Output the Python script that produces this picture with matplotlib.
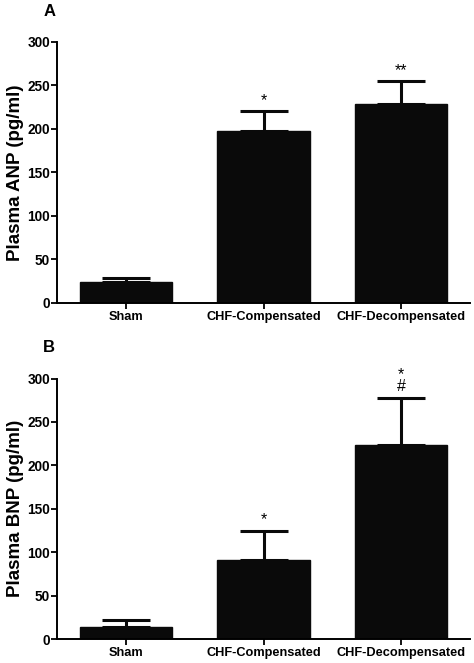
import matplotlib
matplotlib.use("Agg")
import matplotlib.pyplot as plt

plt.rcParams["font.family"] = ["Liberation Sans", "DejaVu Sans"]
plt.rcParams["font.weight"] = "bold"

groups = ["Sham", "CHF-Compensated", "CHF-Decompensated"]

anp_mean = [24.6, 198.0, 229.0]
anp_err = [4.0, 22.0, 25.5]
anp_marks = ["", "*", "**"]

bnp_mean = [14.5, 91.0, 223.0]
bnp_err = [7.0, 33.5, 55.0]
bnp_marks = ["", "*", "*\n#"]


def draw_panel(ax, means, errs, marks, ylabel):
    x = list(range(len(groups)))
    ax.bar(x, means, width=0.67, color="#0a0a0a", edgecolor="#0a0a0a", zorder=2)
    ax.errorbar(x, means, yerr=[[0] * len(errs), errs], fmt="none",
                ecolor="#0a0a0a", elinewidth=2.2, capsize=17, capthick=2.2, zorder=3)
    for xi, m, e, s in zip(x, means, errs, marks):
        if s:
            ax.text(xi, m + e + 4, s, ha="center", va="bottom", fontsize=11.5,
                    fontweight="normal", linespacing=0.75)
    ax.set_xlim(-0.5, 2.5)
    ax.set_ylim(0, 300)
    ax.set_yticks(range(0, 301, 50))
    ax.set_xticks(x)
    ax.set_xticklabels(groups, fontsize=9.2, fontweight="bold")
    ax.tick_params(axis="y", labelsize=9.8, width=1.3, length=4, pad=1)
    ax.tick_params(axis="x", width=1.3, length=4, pad=2)
    for lbl in ax.get_yticklabels():
        lbl.set_fontweight("bold")
    for side in ["top", "right"]:
        ax.spines[side].set_visible(False)
    for side in ["left", "bottom"]:
        ax.spines[side].set_linewidth(1.4)
    ax.set_ylabel(ylabel, fontsize=13.5, fontweight="bold", labelpad=2)


fig = plt.figure(figsize=(4.74, 6.63), dpi=100)
ax1 = fig.add_axes([0.120, 0.543, 0.872, 0.394])
ax2 = fig.add_axes([0.120, 0.036, 0.872, 0.393])

draw_panel(ax1, anp_mean, anp_err, anp_marks, "Plasma ANP (pg/ml)")
draw_panel(ax2, bnp_mean, bnp_err, bnp_marks, "Plasma BNP (pg/ml)")

fig.text(50 / 474, 1 - 11 / 663, "A", fontsize=12, fontweight="bold", ha="center", va="center")
fig.text(49 / 474, 1 - 347 / 663, "B", fontsize=12, fontweight="bold", ha="center", va="center")

fig.savefig("out.png", dpi=100)
